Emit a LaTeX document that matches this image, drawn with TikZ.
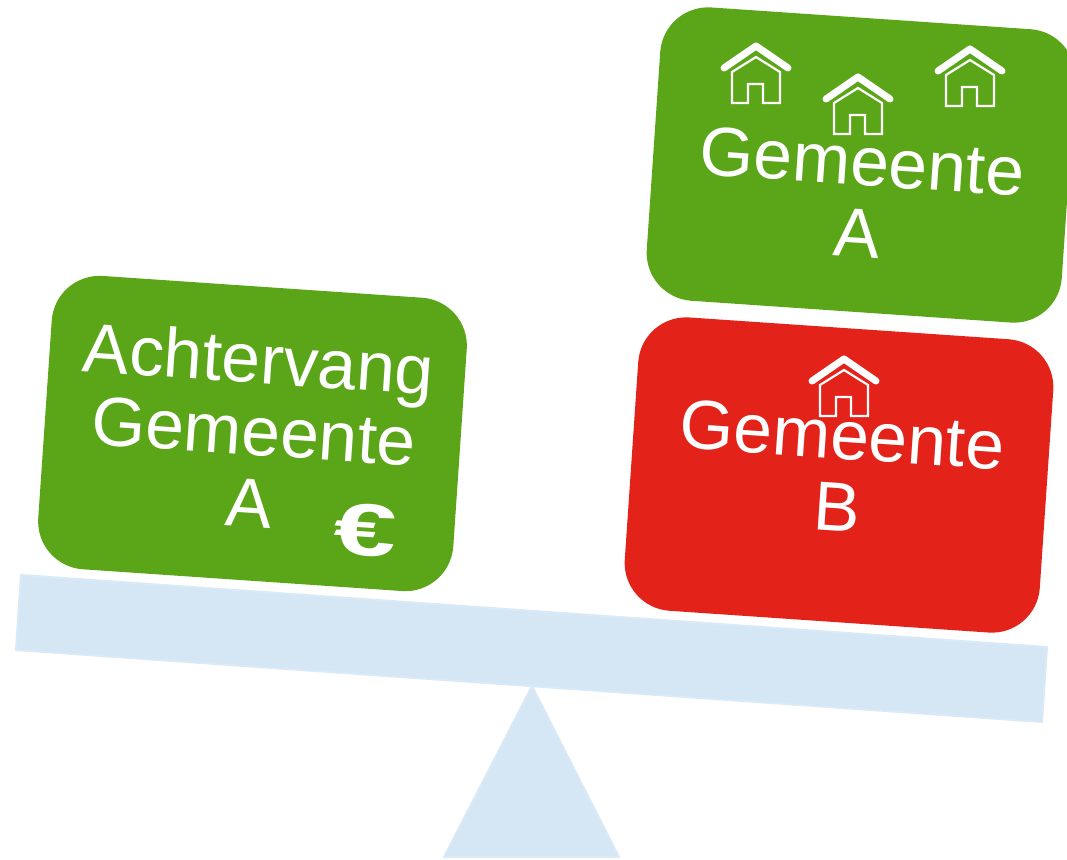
\documentclass[tikz,border=0pt]{standalone}
\usepackage{fontspec}
\setmainfont{Liberation Sans}
\definecolor{grn}{HTML}{5AA518}
\definecolor{rd}{HTML}{E32219}
\definecolor{pale}{HTML}{D5E6F5}
\definecolor{paleedge}{HTML}{DAE9F6}
\tikzset{
  card/.style={rotate=-3.9,minimum width=416pt,minimum height=294pt,rounded corners=48pt,inner sep=0pt,draw=none},
  cardtext/.style={rotate=-3.9,text=white,align=center,inner sep=0pt,font=\fontsize{69.5}{72}\selectfont},
  scaleshape/.style={fill=pale,draw=paleedge,line width=2pt,line join=round},
  house/.pic={
    \draw[white,line width=7pt,line cap=round,line join=round] (-32,23) -- (0,1) -- (32,23);
    \draw[white,line width=2.2pt,line join=miter] (0,12) -- (24,27) -- (24,58) -- (7,58) -- (7,39) -- (-8,39) -- (-8,58) -- (-24,58) -- (-24,27) -- cycle;
  }
}
\begin{document}
\begin{tikzpicture}[x=1pt,y=-1pt]
\useasboundingbox (0,0) rectangle (1067,859);
\clip (0,0) rectangle (1067,859);
\draw[scaleshape] (532,686) -- (619,857) -- (444,857) -- cycle;
\draw[scaleshape] (21,575) -- (1047,647) -- (1042,722) -- (16,650) -- cycle;
\node[card,fill=grn] (achter) at (252.5,433.5) {};
\node[card,fill=grn] (gemA) at (861,165) {};
\node[card,fill=rd] (gemB) at (839,475) {};
\node[cardtext] (achtertext) at (254,430) {Achtervang\\Gemeente\\A};
\node[cardtext] (gemAtext) at (860,197) {Gemeente\\A};
\node[cardtext] (gemBtext) at (840,470.5) {Gemeente\\B};
\node[rotate=-3.9,xscale=1.52,text=white,inner sep=0pt,font=\bfseries\fontsize{74}{74}\selectfont] (euro) at (365,530) {€};
\pic at (756,45) {house};
\pic at (858,76) {house};
\pic at (970,48) {house};
\pic at (844,358) {house};
\end{tikzpicture}
\end{document}
